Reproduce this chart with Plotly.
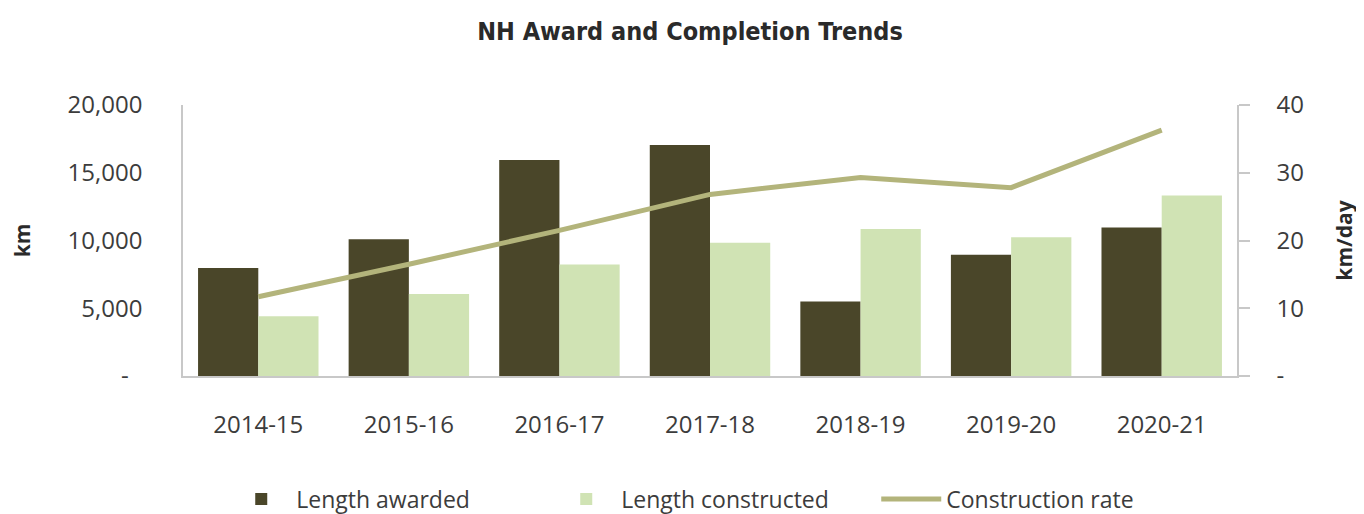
import plotly.graph_objects as go

years = ["2014-15", "2015-16", "2016-17", "2017-18", "2018-19", "2019-20", "2020-21"]
length_awarded = [7970, 10100, 15950, 17050, 5490, 8950, 10960]
length_constructed = [4410, 6060, 8230, 9830, 10850, 10240, 13330]
construction_rate = [11.7, 16.5, 21.5, 26.8, 29.3, 27.8, 36.3]

left_ticks = [0, 5000, 10000, 15000, 20000]
left_text = ["-\u2007", "5,000", "10,000", "15,000", "20,000"]
right_ticks = [0, 10, 20, 30, 40]
right_text = ["-", "10", "20", "30", "40"]

DARK = "#4a4629"
LIGHT = "#d0e3b4"
LINE = "#b3b47b"
AXIS = "#c8c8c8"
TXT = "#3c3c3c"
FONT = "Open Sans, DejaVu Sans, sans-serif"

fig = go.Figure()
fig.add_trace(go.Bar(x=years, y=length_awarded, name="Length awarded",
                     marker=dict(color=DARK, line=dict(width=0))))
fig.add_trace(go.Bar(x=years, y=length_constructed, name="Length constructed",
                     marker=dict(color=LIGHT, line=dict(width=0))))
fig.add_trace(go.Scatter(x=years, y=construction_rate, name="Construction rate",
                         mode="lines", yaxis="y2",
                         line=dict(color=LINE, width=5)))

fig.update_layout(
    width=1364, height=514,
    margin=dict(l=175, r=135, t=97, b=146, autoexpand=False),
    paper_bgcolor="white", plot_bgcolor="white",
    barmode="group", bargap=0.2, bargroupgap=0,
    font=dict(family=FONT, color=TXT, size=22),
    title=dict(text="<b>NH Award and Completion Trends</b>",
               x=0.5, xanchor="center", y=0.955, yanchor="middle",
               font=dict(family="DejaVu Sans Condensed, Liberation Sans Narrow, sans-serif",
                         size=25, color="#2a2a2a")),
    xaxis=dict(showline=True, linecolor=AXIS, linewidth=1.5, ticks="",
               showgrid=False, tickfont=dict(size=24, color=TXT, family=FONT),
               ticklabelstandoff=26, automargin=False),
    yaxis=dict(range=[0, 20000], tickvals=left_ticks, ticktext=left_text,
               showline=True, linecolor=AXIS, linewidth=1.5, ticks="",
               showgrid=False, zeroline=False, automargin=False,
               tickfont=dict(size=24, color=TXT, family=FONT),
               ticklabelstandoff=34,
               title=dict(text="<b>km</b>", standoff=33,
                          font=dict(size=21, color="#2a2a2a", family=FONT))),
    yaxis2=dict(range=[0, 40], tickvals=right_ticks, ticktext=right_text,
                overlaying="y", side="right", automargin=False,
                showline=True, linecolor=AXIS, linewidth=1.5,
                ticks="outside", ticklen=11, tickcolor=AXIS, tickwidth=1.5,
                showgrid=False, zeroline=False,
                tickfont=dict(size=24, color=TXT, family=FONT),
                ticklabelstandoff=22,
                title=dict(text="<b>km/day</b>", standoff=34,
                           font=dict(size=21, color="#2a2a2a", family=FONT))),
    legend=dict(orientation="h", xref="container", x=0.16, xanchor="left",
                yref="container", y=(514 - 491) / 514, yanchor="middle",
                font=dict(size=23, color=TXT, family=FONT),
                itemwidth=60, traceorder="normal",
                entrywidth=250, entrywidthmode="pixels"),
    showlegend=True,
)

fig.write_html("out.html")
